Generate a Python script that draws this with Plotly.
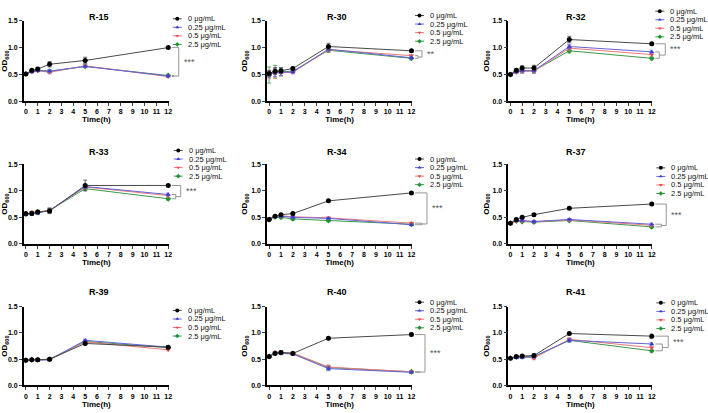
import plotly.graph_objects as go

TIME = [0, 0.5, 1, 2, 5, 12]
DOSES = ["0 μg/mL", "0.25 μg/mL", "0.5 μg/mL", "2.5 μg/mL"]
PANELS = ["R-15", "R-30", "R-32", "R-33", "R-34", "R-37", "R-39", "R-40", "R-41"]
SIG = ["***", "**", "***", "***", "***", "***", "", "***", "***"]

R15_D0 = [0.51, 0.58, 0.60, 0.69, 0.76, 1.00]
R15_D025 = [0.51, 0.55, 0.57, 0.56, 0.65, 0.47]
R15_D05 = [0.51, 0.55, 0.57, 0.54, 0.66, 0.46]
R15_D25 = [0.51, 0.56, 0.58, 0.56, 0.65, 0.48]

R30_D0 = [0.52, 0.56, 0.57, 0.61, 1.02, 0.94]
R30_D025 = [0.50, 0.54, 0.54, 0.55, 0.97, 0.81]
R30_D05 = [0.50, 0.53, 0.53, 0.54, 0.96, 0.85]
R30_D25 = [0.49, 0.55, 0.55, 0.56, 0.95, 0.80]

R32_D0 = [0.50, 0.58, 0.62, 0.62, 1.15, 1.07]
R32_D025 = [0.50, 0.55, 0.57, 0.57, 1.02, 0.92]
R32_D05 = [0.50, 0.54, 0.56, 0.56, 0.99, 0.87]
R32_D25 = [0.50, 0.55, 0.57, 0.57, 0.94, 0.80]

R33_D0 = [0.57, 0.57, 0.60, 0.62, 1.10, 1.10]
R33_D025 = [0.55, 0.58, 0.58, 0.63, 1.08, 0.93]
R33_D05 = [0.56, 0.59, 0.60, 0.63, 1.07, 0.91]
R33_D25 = [0.56, 0.58, 0.60, 0.63, 1.04, 0.85]

R34_D0 = [0.46, 0.52, 0.55, 0.57, 0.81, 0.96]
R34_D025 = [0.47, 0.52, 0.52, 0.50, 0.48, 0.36]
R34_D05 = [0.47, 0.52, 0.53, 0.51, 0.49, 0.39]
R34_D25 = [0.46, 0.51, 0.50, 0.47, 0.44, 0.37]

R37_D0 = [0.39, 0.46, 0.50, 0.55, 0.67, 0.75]
R37_D025 = [0.39, 0.44, 0.44, 0.42, 0.46, 0.37]
R37_D05 = [0.39, 0.43, 0.43, 0.42, 0.45, 0.35]
R37_D25 = [0.39, 0.43, 0.42, 0.41, 0.44, 0.32]

R39_D0 = [0.48, 0.49, 0.49, 0.50, 0.80, 0.73]
R39_D025 = [0.48, 0.49, 0.48, 0.49, 0.86, 0.73]
R39_D05 = [0.48, 0.49, 0.49, 0.49, 0.83, 0.68]
R39_D25 = [0.48, 0.49, 0.49, 0.50, 0.84, 0.72]

R40_D0 = [0.55, 0.61, 0.63, 0.61, 0.90, 0.97]
R40_D025 = [0.55, 0.62, 0.61, 0.60, 0.32, 0.25]
R40_D05 = [0.55, 0.63, 0.63, 0.62, 0.35, 0.26]
R40_D25 = [0.55, 0.62, 0.62, 0.61, 0.34, 0.26]

R41_D0 = [0.52, 0.55, 0.56, 0.57, 0.99, 0.94]
R41_D025 = [0.52, 0.53, 0.53, 0.55, 0.86, 0.79]
R41_D05 = [0.52, 0.54, 0.55, 0.52, 0.88, 0.72]
R41_D25 = [0.52, 0.54, 0.55, 0.55, 0.86, 0.66]

R15_ERR = [[0.02, 0.02, 0.03, 0.05, 0.06, 0.02], [0.01, 0.02, 0.02, 0.03, 0.02, 0.02],
           [0.01, 0.02, 0.02, 0.03, 0.02, 0.02], [0.01, 0.02, 0.02, 0.02, 0.02, 0.02]]
R30_ERR = [[0.05, 0.06, 0.05, 0.03, 0.06, 0.02], [0.06, 0.08, 0.06, 0.03, 0.04, 0.03],
           [0.08, 0.10, 0.05, 0.03, 0.04, 0.02], [0.15, 0.12, 0.08, 0.03, 0.04, 0.03]]
R32_ERR = [[0.02, 0.02, 0.04, 0.05, 0.06, 0.02], [0.02, 0.02, 0.04, 0.04, 0.04, 0.03],
           [0.02, 0.02, 0.04, 0.04, 0.04, 0.03], [0.02, 0.02, 0.03, 0.04, 0.04, 0.03]]
R33_ERR = [[0.02, 0.03, 0.03, 0.05, 0.10, 0.02], [0.02, 0.03, 0.03, 0.04, 0.04, 0.03],
           [0.02, 0.03, 0.03, 0.04, 0.04, 0.03], [0.02, 0.03, 0.03, 0.04, 0.04, 0.03]]
R34_ERR = [[0.01, 0.01, 0.02, 0.02, 0.02, 0.02], [0.01, 0.01, 0.02, 0.02, 0.02, 0.02],
           [0.01, 0.01, 0.02, 0.02, 0.02, 0.02], [0.01, 0.01, 0.02, 0.02, 0.02, 0.02]]
R37_ERR = [[0.01, 0.02, 0.02, 0.02, 0.02, 0.02], [0.01, 0.02, 0.02, 0.02, 0.02, 0.02],
           [0.01, 0.02, 0.02, 0.02, 0.02, 0.02], [0.01, 0.02, 0.02, 0.02, 0.02, 0.02]]
R39_ERR = [[0.01, 0.01, 0.02, 0.02, 0.02, 0.03], [0.01, 0.01, 0.02, 0.02, 0.02, 0.02],
           [0.01, 0.01, 0.02, 0.02, 0.02, 0.02], [0.01, 0.01, 0.02, 0.02, 0.02, 0.02]]
R40_ERR = [[0.02, 0.02, 0.03, 0.02, 0.02, 0.03], [0.02, 0.02, 0.02, 0.02, 0.04, 0.02],
           [0.02, 0.02, 0.02, 0.02, 0.04, 0.02], [0.02, 0.02, 0.02, 0.02, 0.04, 0.02]]
R41_ERR = [[0.01, 0.02, 0.02, 0.03, 0.02, 0.04], [0.01, 0.02, 0.02, 0.03, 0.03, 0.03],
           [0.01, 0.02, 0.02, 0.03, 0.03, 0.03], [0.01, 0.02, 0.02, 0.03, 0.03, 0.03]]

PANEL_DATA = [
    [R15_D0, R15_D025, R15_D05, R15_D25],
    [R30_D0, R30_D025, R30_D05, R30_D25],
    [R32_D0, R32_D025, R32_D05, R32_D25],
    [R33_D0, R33_D025, R33_D05, R33_D25],
    [R34_D0, R34_D025, R34_D05, R34_D25],
    [R37_D0, R37_D025, R37_D05, R37_D25],
    [R39_D0, R39_D025, R39_D05, R39_D25],
    [R40_D0, R40_D025, R40_D05, R40_D25],
    [R41_D0, R41_D025, R41_D05, R41_D25],
]
PANEL_ERR = [R15_ERR, R30_ERR, R32_ERR, R33_ERR, R34_ERR, R37_ERR, R39_ERR, R40_ERR, R41_ERR]

# ---- style / layout ----
W, H = 708, 413
COLORS = ["#000000", "#3b3bd6", "#f04848", "#1c9430"]
LINE_COLORS = ["#4a4a4a", "#6464dc", "#f07878", "#3a9a48"]
SYMBOLS = ["circle", "triangle-up", "triangle-down", "diamond"]
SIZES = [5, 4.5, 4.5, 4.5]
LEG_SIZES = [4, 3.5, 3.5, 3.5]
COL_PX = [(22, 168), (267, 413), (510, 655)]
ROW_PX = [(17, 99), (163, 244), (308, 388)]
TITLE_X = [98, 337, 578]
TITLE_Y = [13, 151, 293]
LEG_POS = [(172, 15), (416, 11.7), (658, 7.3), (173, 149), (416, 157.7),
           (659, 166.7), (172, 311.7), (416, 303.3), (659, 304)]
# bracket offsets in px beyond plot right edge (inner, outer)
BRK = [(5, 10), (6, 10), (7, 13), (7, 12), (10, 15), (9, 14), (0, 0), (8, 13), (10, 16)]
YMAX = 1.5
FONT = "Liberation Sans, Arial, sans-serif"

fig = go.Figure()
layout = dict(
    width=W, height=H, margin=dict(l=0, r=0, t=0, b=0),
    paper_bgcolor="white", plot_bgcolor="rgba(0,0,0,0)",
    showlegend=False, font=dict(family=FONT, color="black"),
)
shapes = []
annotations = []

for p, name in enumerate(PANELS):
    r, c = divmod(p, 3)
    n = "" if p == 0 else str(p + 1)
    x0, x1 = COL_PX[c]
    y0, y1 = ROW_PX[r]
    layout["xaxis" + n] = dict(
        domain=[x0 / W, x1 / W], range=[-0.17, 12.05], anchor="y" + n,
        tickvals=list(range(13)), ticks="outside", ticklen=3, tickwidth=1,
        showline=True, linecolor="black", linewidth=1.5, showgrid=False, zeroline=False,
        tickfont=dict(size=7, weight="bold"),
        title=dict(text="Time(h)", font=dict(size=8, weight="bold"), standoff=2),
    )
    layout["yaxis" + n] = dict(
        domain=[1 - y1 / H, 1 - y0 / H], range=[0, YMAX], anchor="x" + n,
        tickvals=[0, 0.5, 1.0, 1.5], tickformat=".1f", ticks="outside", ticklen=3, tickwidth=1,
        showline=True, linecolor="black", linewidth=1.5, showgrid=False, zeroline=False,
        tickfont=dict(size=7, weight="bold"),
        title=dict(text="OD<sub>600</sub>", font=dict(size=8, weight="bold"), standoff=2),
    )
    series = PANEL_DATA[p]
    errs = PANEL_ERR[p]
    for k in [3, 2, 1, 0]:
        fig.add_trace(go.Scatter(
            x=TIME, y=series[k], mode="lines+markers", xaxis="x" + n, yaxis="y" + n,
            line=dict(color=LINE_COLORS[k], width=1),
            marker=dict(color=COLORS[k], symbol=SYMBOLS[k], size=SIZES[k]),
            error_y=dict(type="data", array=errs[k], color=LINE_COLORS[k], thickness=0.8, width=2),
            cliponaxis=False, name=DOSES[k],
        ))
    annotations.append(dict(
        text="<b>" + name + "</b>", x=TITLE_X[c] / W, y=1 - TITLE_Y[r] / H,
        xref="paper", yref="paper", showarrow=False, font=dict(size=9),
        xanchor="center", yanchor="middle"))

    # legend (manual, compact rows)
    lx, ly = LEG_POS[p]
    for k in range(4):
        yy = ly + k * 8.7
        fig.add_trace(go.Scatter(
            x=[lx, lx + 9], y=[yy, yy], mode="lines",
            xaxis="x10", yaxis="y10", line=dict(color=LINE_COLORS[k], width=1),
            hoverinfo="skip", cliponaxis=False))
        fig.add_trace(go.Scatter(
            x=[lx + 4.5], y=[yy], mode="markers",
            xaxis="x10", yaxis="y10",
            marker=dict(color=COLORS[k], symbol=SYMBOLS[k], size=LEG_SIZES[k]),
            hoverinfo="skip", cliponaxis=False))
        annotations.append(dict(
            text=DOSES[k], x=(lx + 13) / W, y=1 - yy / H, xref="paper", yref="paper",
            showarrow=False, xanchor="left", yanchor="middle",
            font=dict(size=7.5, color="#111111")))

    # significance brackets
    if SIG[p]:
        pw = x1 - x0
        xr, yr = "x" + n + " domain", "y" + n + " domain"
        top = series[0][-1]
        ends = [s[-1] for s in series[1:]]
        gmin, gmax = min(ends), max(ends)
        gmid = (gmin + gmax) / 2
        a = 1 + 3 / pw
        b = 1 + BRK[p][0] / pw
        cc = 1 + BRK[p][1] / pw
        yd = lambda v: v / YMAX
        segs = [
            (a, yd(gmax), b, yd(gmax)), (b, yd(gmax), b, yd(gmin)), (a, yd(gmin), b, yd(gmin)),
            (a, yd(top), cc, yd(top)), (cc, yd(top), cc, yd(gmid)), (b, yd(gmid), cc, yd(gmid)),
        ]
        for sx0, sy0, sx1, sy1 in segs:
            shapes.append(dict(type="line", xref=xr, yref=yr, x0=sx0, y0=sy0, x1=sx1, y1=sy1,
                               line=dict(color="#8a8a8a", width=0.9)))
        annotations.append(dict(
            text=SIG[p], x=cc + 3 / pw, y=yd((top + gmid) / 2), xref=xr, yref=yr,
            showarrow=False, xanchor="left", yanchor="middle",
            font=dict(size=9, color="#555555")))

layout["xaxis10"] = dict(domain=[0, 1], range=[0, W], visible=False, fixedrange=True, anchor="y10")
layout["yaxis10"] = dict(domain=[0, 1], range=[H, 0], visible=False, fixedrange=True, anchor="x10")
layout["shapes"] = shapes
layout["annotations"] = annotations
fig.update_layout(**layout)
fig.write_html("out.html")
